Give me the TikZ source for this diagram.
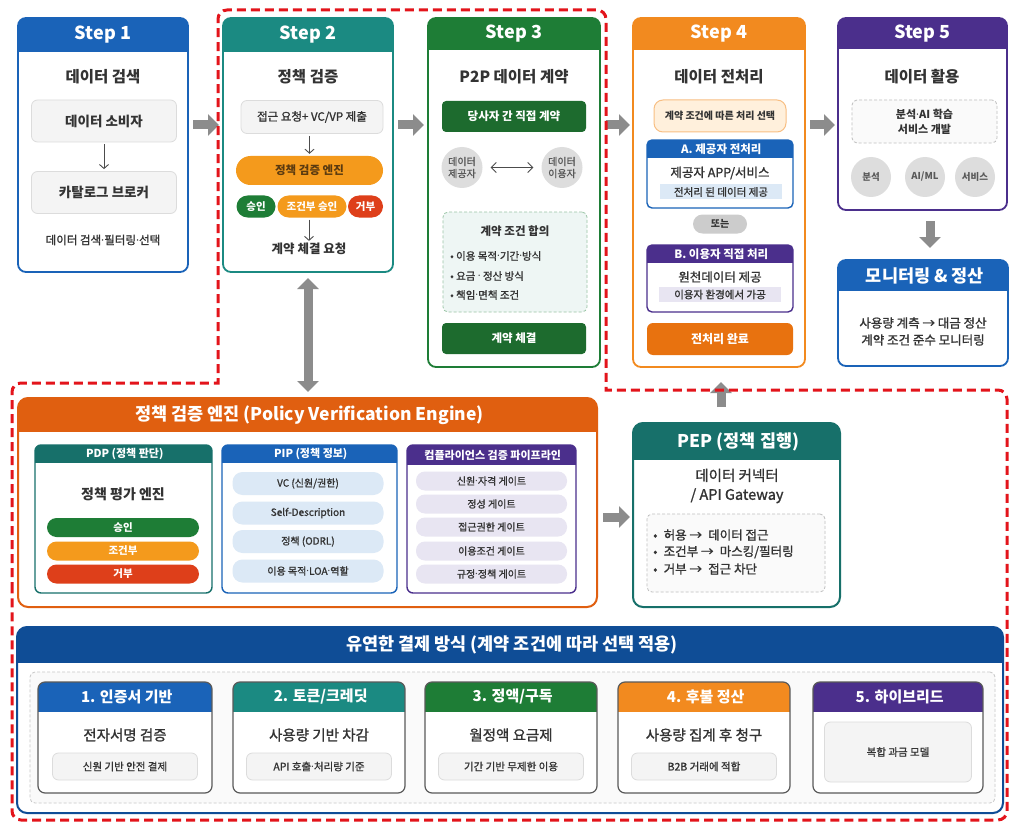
\documentclass[tikz,border=0pt]{standalone}
\usepackage{fontspec}
\setmainfont{Noto Sans CJK KR}
\setsansfont{Noto Sans CJK KR}
\newfontfamily\medf[FakeBold=1.2]{Noto Sans CJK KR}
\newfontfamily\latinf{Noto Sans}
\newcommand\md{{\latinf ·}}
\usetikzlibrary{arrows.meta,fit,calc}
\definecolor{cBlue}{HTML}{1A63B8}
\definecolor{cTeal}{HTML}{1B8A82}
\definecolor{cGreen}{HTML}{1E7D36}
\definecolor{cDGreen}{HTML}{1D6B2E}
\definecolor{cOrg}{HTML}{F28A1F}
\definecolor{cOrgD}{HTML}{E8720F}
\definecolor{cPur}{HTML}{4B2F8C}
\definecolor{cEng}{HTML}{E05F10}
\definecolor{cDTeal}{HTML}{17706A}
\definecolor{cNavy}{HTML}{0F4D96}
\definecolor{cPillG}{HTML}{1E7D36}
\definecolor{cPillO}{HTML}{F49A1C}
\definecolor{cPillR}{HTML}{DE3F1A}
\definecolor{cTxt}{HTML}{333333}
\definecolor{cGrayF}{HTML}{F4F4F4}
\definecolor{cGrayB}{HTML}{DCDCDC}
\definecolor{cArr}{HTML}{8C8C8C}
\definecolor{cRed}{HTML}{E3141B}
\definecolor{cLBlue}{HTML}{DCE9F6}
\definecolor{cLPur}{HTML}{E8E5F2}
\definecolor{cLOrg}{HTML}{FFF0DC}
\definecolor{cLTeal}{HTML}{EEF6F4}
\definecolor{cCirc}{HTML}{DDDDDD}
\definecolor{cBrown}{HTML}{5A3A10}
\definecolor{cFrame}{HTML}{5A5A5A}
\newcommand\fs[2]{\fontsize{#1}{#2}\selectfont}
\def\hbr{8pt}
\def\hbw{1.8pt}
\newcommand\HdrBox[9]{%
  \begin{scope}
    \clip[rounded corners=\hbr] (#2,#3) rectangle (#4,#5);
    \fill[white] (#2,#3) rectangle (#4,#5);
    \fill[#7] (#2,#3) rectangle (#4,{#3+#6});
  \end{scope}
  \node[fit={(#2,#3)(#4,#5)}, inner sep=0pt, outer sep=0pt, draw=#8, line width=\hbw, rounded corners=\hbr] (#1) {};
  \node[text=white, inner sep=0pt] (#1-h) at ({(#2+#4)/2},{#3+#6/2}) {#9};
}
\tikzset{
  every node/.append style={text=cTxt},
  ttl/.style={font=\bfseries\fs{15.5}{18}, inner sep=0pt},
  txt/.style={inner sep=0pt, align=center},
  gbox/.style={draw=cGrayB, fill=cGrayF, rounded corners=6pt, inner sep=0pt, line width=0.8pt},
  pill/.style={inner sep=0pt, text=white, font=\bfseries\fs{10.5}{12}},
  dbox/.style={fill=cDGreen, rounded corners=4pt, inner sep=0pt, text=white, font=\bfseries\fs{11.5}{13}, minimum width=144, minimum height=31},
  thinarr/.style={-{Straight Barb[length=4pt,width=9pt]}, line width=0.9pt, draw=black!70, shorten >=2pt, shorten <=2pt},
  fatarr/.style={draw=cArr, line width=9pt, -{Triangle[length=11pt,width=21pt]}},
  fatdbl/.style={draw=cArr, line width=9pt, {Triangle[length=11pt,width=21pt]}-{Triangle[length=11pt,width=21pt]}},
  circ/.style={circle, fill=cCirc, inner sep=0pt, minimum size=41, align=center, text=black!65},
  dashbox/.style={draw=black!25, dash pattern=on 3pt off 2pt, line width=0.8pt, fill=black!2, rounded corners=5pt, inner sep=0pt},
  reddash/.style={draw=cRed, line width=3pt, dash pattern=on 9pt off 5pt},
}
\newcommand\hdrfont{\bfseries\fs{18}{20}}
\begin{document}
\begin{tikzpicture}[x=1pt,y=-1pt]
\useasboundingbox (0,0) rectangle (1010,824);
\fill[white] (0,0) rectangle (1010,824);

% ---------------- Step 1
\HdrBox{s1}{18}{18}{188}{272}{34}{cBlue}{cBlue}{\hdrfont Step 1}
\node[ttl] (s1t) at (103,77) {데이터 검색};
\node[gbox, minimum width=145, minimum height=42, font=\bfseries\fs{13.5}{16}] (s1a) at (104,121) {데이터 소비자};
\node[gbox, minimum width=145, minimum height=42, font=\bfseries\fs{13.5}{16}] (s1b) at (104,192.5) {카탈로그 브로커};
\draw[thinarr] (s1a) -- (s1b);
\node[txt, font=\medf\fs{11.5}{14}] (s1c) at (103,240) {데이터 검색\md 필터링\md 선택};

% ---------------- Step 2
\HdrBox{s2}{223}{18}{393}{272}{34}{cTeal}{cTeal}{\hdrfont Step 2}
\node[ttl] (s2t) at (308,77) {정책 검증};
\node[gbox, minimum width=142, minimum height=33, font=\medf\fs{11.5}{13}] (s2a) at (312,117) {접근 요청+ VC/VP 제출};
\node[pill, fill=cPillO, rounded corners=14.5pt, minimum width=147, minimum height=29, text=cBrown, font=\bfseries\fs{11.5}{13}] (s2b) at (309.5,170.5) {정책 검증 엔진};
\draw[thinarr] (s2a.south -| s2b.north) -- (s2b.north);
\node[pill, fill=cPillG, rounded corners=11pt, minimum width=39, minimum height=22] (s2g) at (256,206.5) {승인};
\node[pill, fill=cPillO, rounded corners=11pt, minimum width=69, minimum height=22] (s2o) at (312,206.5) {조건부 승인};
\node[pill, fill=cPillR, rounded corners=11pt, minimum width=35, minimum height=22] (s2r) at (365.5,206.5) {거부};
\node[txt, font=\bfseries\fs{12.5}{15}] (s2c) at (309,249) {계약 체결 요청};
\draw[thinarr] (s2o.south -| s2c.north) -- (s2c.north);

% ---------------- Step 3
\HdrBox{s3}{428}{18}{600}{367}{32}{cGreen}{cGreen}{\hdrfont Step 3}
\node[ttl] (s3t) at (514,77) {P2P 데이터 계약};
\node[dbox] (s3a) at (514,116.5) {당사자 간 직접 계약};
\node[circ, font=\medf\fs{10}{12}] (s3p) at (462,167.5) {데이터\\제공자};
\node[circ, font=\medf\fs{10}{12}] (s3u) at (562,167.5) {데이터\\이용자};
\draw[{Straight Barb[length=5pt,width=10pt]}-{Straight Barb[length=5pt,width=10pt]}, line width=0.9pt, draw=black!70, shorten >=8pt, shorten <=8pt] (s3p) -- (s3u);
\node[dashbox, draw=cGreen!45, fill=cLTeal, minimum width=144, minimum height=100] (s3c) at (515,262) {};
\node[txt, font=\bfseries\fs{11.5}{13}] (s3c1) at (515,231) {계약 조건 합의};
\node[txt, anchor=west, font=\medf\fs{10.5}{12}] (s3c2) at (450,256) {• 이용 목적\md 기간\md 방식};
\node[txt, anchor=west, font=\medf\fs{10.5}{12}] (s3c3) at (450,276) {• 요금 \md{} 정산 방식};
\node[txt, anchor=west, font=\medf\fs{10.5}{12}] (s3c4) at (450,295) {• 책임\md 면책 조건};
\node[dbox] (s3b) at (514,338.5) {계약 체결};

% ---------------- Step 4
\HdrBox{s4}{633}{18}{805}{367}{32}{cOrg}{cOrg}{\hdrfont Step 4}
\node[ttl] (s4t) at (719,77) {데이터 전처리};
\node[draw=cOrg!55, fill=cLOrg, rounded corners=9pt, line width=1pt, minimum width=132, minimum height=32, inner sep=0pt, font=\bfseries\fs{10}{12}] (s4a) at (720,116) {계약 조건에 따른 처리 선택};
\def\hbr{5pt}\def\hbw{1.4pt}
\HdrBox{s4A}{647}{140}{793}{208}{18}{cBlue}{cBlue}{\bfseries\fs{11.5}{13} A. 제공자 전처리}
\node[txt, font=\medf\fs{12.5}{14}] (s4A1) at (720,173) {제공자 APP/서비스};
\node[txt, fill=cLBlue, minimum width=122, minimum height=15, font=\medf\fs{10.5}{12}] (s4A2) at (721,192) {전처리 된 데이터 제공};
\node[pill, fill=black!20, text=cTxt, rounded corners=9.5pt, minimum width=54, minimum height=19, font=\bfseries\fs{10}{12}] (s4or) at (720,224) {또는};
\HdrBox{s4B}{647}{245}{793}{312}{18}{cPur}{cPur}{\bfseries\fs{11.5}{13} B. 이용자 직접 처리}
\node[txt, font=\medf\fs{12.5}{14}] (s4B1) at (720,277) {원천데이터 제공};
\node[txt, fill=cLPur, minimum width=122, minimum height=15, font=\medf\fs{10.5}{12}] (s4B2) at (720,294.5) {이용자 환경에서 가공};
\node[fill=cOrgD, rounded corners=6pt, inner sep=0pt, minimum width=146, minimum height=32, text=white, font=\bfseries\fs{12}{14}] (s4b) at (720,339) {전처리 완료};

% ---------------- Step 5
\def\hbr{8pt}\def\hbw{1.8pt}
\HdrBox{s5}{838}{18}{1007}{210}{31}{cPur}{cPur}{\hdrfont Step 5}
\node[ttl] (s5t) at (922,77) {데이터 활용};
\node[dashbox, minimum width=145, minimum height=43, align=center, font=\bfseries\fs{11}{15}] (s5a) at (924.5,121.5) {분석\md AI 학습\\서비스 개발};
\node[circ, minimum size=40, font=\bfseries\fs{9.5}{11}] (s5c1) at (871,177) {분석};
\node[circ, minimum size=40, font=\bfseries\fs{9.5}{11}] (s5c2) at (925,177) {AI/ML};
\node[circ, minimum size=40, font=\bfseries\fs{9.5}{11}] (s5c3) at (975,177) {서비스};

% ---------------- Monitoring
\HdrBox{mon}{838}{260}{1008}{366}{31}{cBlue}{cBlue}{\bfseries\fs{17.5}{20} 모니터링 \& 정산}
\node[txt, font=\medf\fs{12.5}{17}] (mon1) at (923,331.5) {사용량 계측 → 대금 정산\\계약 조건 준수 모니터링};

% ---------------- Engine
\def\hbr{10pt}\def\hbw{2pt}
\HdrBox{eng}{18}{398}{597}{607}{34}{cEng}{cEng}{\bfseries\fs{17.5}{20} 정책 검증 엔진 (Policy Verification Engine)}
\def\hbr{6pt}\def\hbw{1.4pt}
\HdrBox{pdp}{35}{445}{212}{593}{18}{cDTeal}{cDTeal}{\bfseries\fs{11}{13} PDP (정책 판단)}
\node[txt, font=\bfseries\fs{14}{16}] (pdp1) at (123,494) {정책 평가 엔진};
\node[pill, fill=cPillG, rounded corners=9.5pt, minimum width=152, minimum height=19] (pdpg) at (123,527.5) {승인};
\node[pill, fill=cPillO, rounded corners=9.5pt, minimum width=152, minimum height=19] (pdpo) at (123,551) {조건부};
\node[pill, fill=cPillR, rounded corners=9.5pt, minimum width=152, minimum height=19] (pdpr) at (123,574) {거부};
\HdrBox{pip}{222}{445}{397}{593}{18}{cBlue}{cBlue}{\bfseries\fs{11}{13} PIP (정책 정보)}
\node[txt, fill=cLBlue, rounded corners=10pt, minimum width=151, minimum height=23, font=\medf\fs{10}{12}] (pip1) at (308,483.5) {VC (신원/권한)};
\node[txt, fill=cLBlue, rounded corners=10pt, minimum width=151, minimum height=23, font=\medf\fs{10}{12}] (pip2) at (308,513) {Self-Description};
\node[txt, fill=cLBlue, rounded corners=10pt, minimum width=151, minimum height=23, font=\medf\fs{10}{12}] (pip3) at (308,541.5) {정책 (ODRL)};
\node[txt, fill=cLBlue, rounded corners=10pt, minimum width=151, minimum height=23, font=\medf\fs{10}{12}] (pip4) at (308,571) {이용 목적\md LOA\md 역할};
\HdrBox{cmp}{407}{445}{576}{593}{20}{cPur}{cPur}{\bfseries\fs{11}{13} 컴플라이언스 검증 파이프라인}
\node[txt, fill=cLPur, rounded corners=9pt, minimum width=151, minimum height=19, font=\medf\fs{10}{11}] (cmp1) at (491.5,481) {신원\md 자격 게이트};
\node[txt, fill=cLPur, rounded corners=9pt, minimum width=151, minimum height=19, font=\medf\fs{10}{11}] (cmp2) at (491.5,504) {정성 게이트};
\node[txt, fill=cLPur, rounded corners=9pt, minimum width=151, minimum height=19, font=\medf\fs{10}{11}] (cmp3) at (491.5,527) {접근권한 게이트};
\node[txt, fill=cLPur, rounded corners=9pt, minimum width=151, minimum height=19, font=\medf\fs{10}{11}] (cmp4) at (491.5,551) {이용조건 게이트};
\node[txt, fill=cLPur, rounded corners=9pt, minimum width=151, minimum height=19, font=\medf\fs{10}{11}] (cmp5) at (491.5,574) {규정\md 정책 게이트};

% ---------------- PEP
\def\hbr{10pt}\def\hbw{2pt}
\HdrBox{pep}{633}{423}{840}{607}{37}{cDTeal}{cDTeal}{\bfseries\fs{17.5}{20} PEP (정책 집행)}
\node[txt, font=\medf\fs{14.5}{19}] (pep1) at (737,486) {데이터 커넥터\\/ API Gateway};
\node[dashbox, minimum width=178, minimum height=78] (pepd) at (736,553) {};
\node[txt, anchor=west, font=\medf\fs{12.5}{14}] (pepb1) at (653,535) {•\enspace 허용 →\enspace 데이터 접근};
\node[txt, anchor=west, font=\medf\fs{12.5}{14}] (pepb2) at (653,552) {•\enspace 조건부 →\enspace 마스킹/필터링};
\node[txt, anchor=west, font=\medf\fs{12.5}{14}] (pepb3) at (653,569) {•\enspace 거부 →\enspace 접근 차단};

% ---------------- Payment
\HdrBox{pay}{17}{627}{1003}{813}{36}{cNavy}{cNavy}{\bfseries\fs{17.5}{20} 유연한 결제 방식 (계약 조건에 따라 선택 적용)}
\node[dashbox, fill=black!2, draw=black!22, fit={(30,672)(995,803)}] (payd) {};
\def\hbr{7pt}\def\hbw{1.2pt}
\HdrBox{p1}{38}{682}{212}{793}{30}{cBlue}{cFrame}{\bfseries\fs{15}{18} 1. 인증서 기반}
\node[txt, font=\medf\fs{14.5}{16}] (p1a) at (125,735) {전자서명 검증};
\node[gbox, minimum width=145, minimum height=27, font=\medf\fs{10.5}{12}] (p1b) at (125,766.5) {신원 기반 안전 결제};
\HdrBox{p2}{233}{682}{405}{793}{30}{cTeal}{cFrame}{\bfseries\fs{15}{18} 2. 토큰/크레딧}
\node[txt, font=\medf\fs{14.5}{16}] (p2a) at (319,735) {사용량 기반 차감};
\node[gbox, minimum width=145, minimum height=27, font=\medf\fs{10.5}{12}] (p2b) at (319,766.5) {API 호출\md 처리량 기준};
\HdrBox{p3}{425}{682}{597}{793}{30}{cGreen}{cFrame}{\bfseries\fs{15}{18} 3. 정액/구독}
\node[txt, font=\medf\fs{14.5}{16}] (p3a) at (511,735) {월정액 요금제};
\node[gbox, minimum width=145, minimum height=27, font=\medf\fs{10.5}{12}] (p3b) at (511,766.5) {기간 기반 무제한 이용};
\HdrBox{p4}{618}{682}{790}{793}{30}{cOrg}{cFrame}{\bfseries\fs{15}{18} 4. 후불 정산}
\node[txt, font=\medf\fs{14.5}{16}] (p4a) at (704,735) {사용량 집계 후 청구};
\node[gbox, minimum width=145, minimum height=27, font=\medf\fs{10.5}{12}] (p4b) at (704,766.5) {B2B 거래에 적합};
\HdrBox{p5}{813}{682}{983}{793}{30}{cPur}{cFrame}{\bfseries\fs{15}{18} 5. 하이브리드}
\node[gbox, minimum width=147, minimum height=60, font=\medf\fs{10.5}{12}] (p5b) at (898,752) {복합 과금 모델};

% ---------------- connectors
\coordinate (ar) at (0,125);
\draw[fatarr, shorten <=5pt, shorten >=4pt] (s1.east |- ar) -- (s2.west |- ar);
\draw[fatarr, shorten <=5pt, shorten >=4pt] (s2.east |- ar) -- (s3.west |- ar);
\draw[fatarr, shorten <=6pt, shorten >=3pt] (s3.east |- ar) -- (s4.west |- ar);
\draw[fatarr, shorten <=5pt, shorten >=3pt] (s4.east |- ar) -- (s5.west |- ar);
\coordinate (ax) at (930,0);
\draw[fatarr, shorten <=11pt, shorten >=12pt] (s5.south -| ax) -- (mon.north -| ax);
\draw[fatdbl, shorten <=6pt, shorten >=6pt] (s2.south) -- (s2.south |- eng.north);
\coordinate (ay) at (0,517);
\draw[fatarr, shorten <=6pt, shorten >=3pt] (eng.east |- ay) -- (pep.west |- ay);
\coordinate (ax2) at (721,0);
\draw[fatarr, shorten <=16pt, shorten >=15pt] (pep.north -| ax2) -- (s4.south -| ax2);

% ---------------- red dashed region (outer corners rounded, inner corners sharp)
\draw[reddash] (12,600) [rounded corners=9pt] -- (12,383) [sharp corners] -- (218,383) [rounded corners=9pt] -- (218,10) -- (606,10) [sharp corners] -- (606,390) [rounded corners=9pt] -- (1007,390) -- (1007,820) -- (12,820) -- cycle;
\end{tikzpicture}
\end{document}
